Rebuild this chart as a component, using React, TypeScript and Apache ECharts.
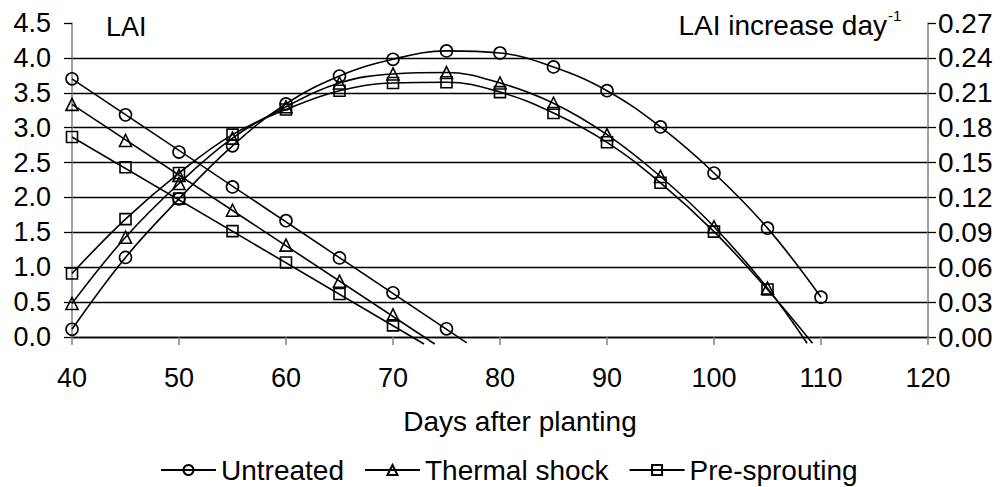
import React, { useEffect, useRef } from 'react';
import * as echarts from 'echarts';

// ---- data ----
const days = [40, 45, 50, 55, 60, 65, 70, 75, 80, 85, 90, 95, 100, 105, 110];

// LAI (left axis)
const untreatedLAI = [0.11, 1.14, 1.98, 2.74, 3.34, 3.74, 3.98, 4.1, 4.07, 3.87, 3.53, 3.01, 2.35, 1.56, 0.57];
const thermalLAI = [0.48, 1.43, 2.2, 2.85, 3.3, 3.64, 3.77, 3.79, 3.64, 3.35, 2.9, 2.3, 1.58, 0.7];
const presproutLAI = [0.91, 1.69, 2.35, 2.9, 3.26, 3.53, 3.64, 3.65, 3.51, 3.21, 2.79, 2.21, 1.51, 0.68];
// where the fitted LAI curves run out below the x axis
const thermalLAIEnd = [108.7, -0.09];
const presproutLAIEnd = [109.2, -0.09];

// LAI increase day^-1 (right axis)
const untreatedRate = [0.222, 0.191, 0.159, 0.129, 0.1, 0.068, 0.038, 0.007];
const thermalRate = [0.2, 0.169, 0.139, 0.109, 0.079, 0.048, 0.019];
const presproutRate = [0.172, 0.146, 0.119, 0.091, 0.064, 0.037, 0.01];
// linear trend lines: start and end points
const untreatedRateTrend = [[40, 0.222], [76.9, -0.005]];
const thermalRateTrend = [[40, 0.2], [73.9, -0.006]];
const presproutRateTrend = [[40, 0.172], [72.9, -0.006]];

const seriesNames = ['Untreated', 'Thermal shock', 'Pre-sprouting'];
const symbols = ['circle', 'triangle', 'rect'];
const symbolSizes = [12, 12, 11];

const xTitle = 'Days after planting';
const leftTitle = 'LAI';
const rightTitle = 'LAI increase day';
const rightTitleSup = '-1';

const FONT = '"Liberation Sans", Arial, Helvetica, sans-serif';

const pairs = (vals: number[]) => vals.map((v, i) => [days[i], v]);

export default function App() {
  const ref = useRef<HTMLDivElement>(null);

  useEffect(() => {
    if (!ref.current) return;
    const chart = echarts.init(ref.current, undefined, { renderer: 'svg' });

    const lai = [untreatedLAI, thermalLAI, presproutLAI];
    const laiEnds: (number[] | null)[] = [null, thermalLAIEnd, presproutLAIEnd];
    const rates = [untreatedRate, thermalRate, presproutRate];
    const trends = [untreatedRateTrend, thermalRateTrend, presproutRateTrend];

    const markerStyle = {
      color: 'rgba(0,0,0,0)',
      borderColor: '#000',
      borderWidth: 1.6,
      opacity: 1,
    };
    const lineStyle = { color: '#000', width: 1.6, opacity: 1 };

    const series: any[] = [];
    seriesNames.forEach((name, k) => {
      const data: any[] = pairs(lai[k]);
      const end = laiEnds[k];
      if (end) data.push({ value: end, symbol: 'none' });
      series.push({
        name,
        type: 'line',
        yAxisIndex: 0,
        smooth: 0.4,
        symbol: symbols[k],
        symbolSize: symbolSizes[k],
        itemStyle: markerStyle,
        lineStyle,
        clip: false,
        data,
        z: 3,
      });
    });
    seriesNames.forEach((name, k) => {
      series.push({
        name,
        type: 'line',
        yAxisIndex: 1,
        symbol: 'none',
        lineStyle,
        clip: false,
        data: trends[k],
        z: 2,
      });
      series.push({
        name,
        type: 'line',
        yAxisIndex: 1,
        symbol: symbols[k],
        symbolSize: symbolSizes[k],
        showSymbol: true,
        itemStyle: markerStyle,
        lineStyle: { width: 0, opacity: 0 },
        data: pairs(rates[k]),
        z: 4,
      });
    });

    const splitColors = Array.from({ length: 10 }, (_, i) => (i === 9 ? 'rgba(0,0,0,0)' : '#000'));

    chart.setOption({
      animation: false,
      backgroundColor: '#fff',
      textStyle: { fontFamily: FONT, color: '#000' },
      grid: { left: 72, right: 77, top: 23, bottom: 150, containLabel: false },
      xAxis: {
        type: 'value',
        min: 40,
        max: 120,
        interval: 10,
        axisLine: { show: true, lineStyle: { color: '#000', width: 1.3 } },
        axisTick: { show: true, length: 8, lineStyle: { color: '#808080', width: 1.5 } },
        axisLabel: { fontSize: 27, color: '#000', margin: 27, fontFamily: FONT },
        splitLine: { show: false },
      },
      yAxis: [
        {
          type: 'value',
          min: 0,
          max: 4.5,
          interval: 0.5,
          position: 'left',
          axisLine: { show: true, lineStyle: { color: '#808080', width: 1.5 } },
          axisTick: { show: true, length: 8, lineStyle: { color: '#000', width: 1.3 } },
          axisLabel: {
            fontSize: 27,
            color: '#000',
            margin: 21,
            fontFamily: FONT,
            formatter: (v: number) => v.toFixed(1),
          },
          splitLine: { show: true, lineStyle: { color: splitColors, width: 1.3 } },
        },
        {
          type: 'value',
          min: 0,
          max: 0.27,
          interval: 0.03,
          position: 'right',
          axisLine: { show: true, lineStyle: { color: '#808080', width: 1.5 } },
          axisTick: { show: true, length: 8, lineStyle: { color: '#000', width: 1.3 } },
          axisLabel: {
            fontSize: 28,
            color: '#000',
            margin: 10,
            fontFamily: FONT,
            formatter: (v: number) => v.toFixed(2),
          },
          splitLine: { show: false },
        },
      ],
      legend: {
        data: seriesNames,
        left: 155,
        top: 451,
        itemWidth: 55,
        itemHeight: 12.5,
        itemGap: 20,
        textStyle: { fontSize: 28, color: '#000', fontFamily: FONT },
      },
      graphic: [
        {
          type: 'text',
          x: 106,
          y: 27,
          style: { text: leftTitle, fontSize: 27, fontFamily: FONT, fill: '#000', align: 'left', verticalAlign: 'middle' },
        },
        {
          type: 'text',
          x: 887,
          y: 25,
          style: { text: rightTitle, fontSize: 28, fontFamily: FONT, fill: '#000', align: 'right', verticalAlign: 'middle' },
        },
        {
          type: 'text',
          x: 888,
          y: 15,
          style: { text: rightTitleSup, fontSize: 15, fontFamily: FONT, fill: '#000', align: 'left', verticalAlign: 'middle' },
        },
        {
          type: 'text',
          x: 520,
          y: 421,
          style: { text: xTitle, fontSize: 28, fontFamily: FONT, fill: '#000', align: 'center', verticalAlign: 'middle' },
        },
      ],
      series,
    });

    return () => chart.dispose();
  }, []);

  return (
    <div
      ref={ref}
      style={{ position: 'fixed', left: 0, top: 0, width: 1005, height: 487, background: '#fff' }}
    />
  );
}
